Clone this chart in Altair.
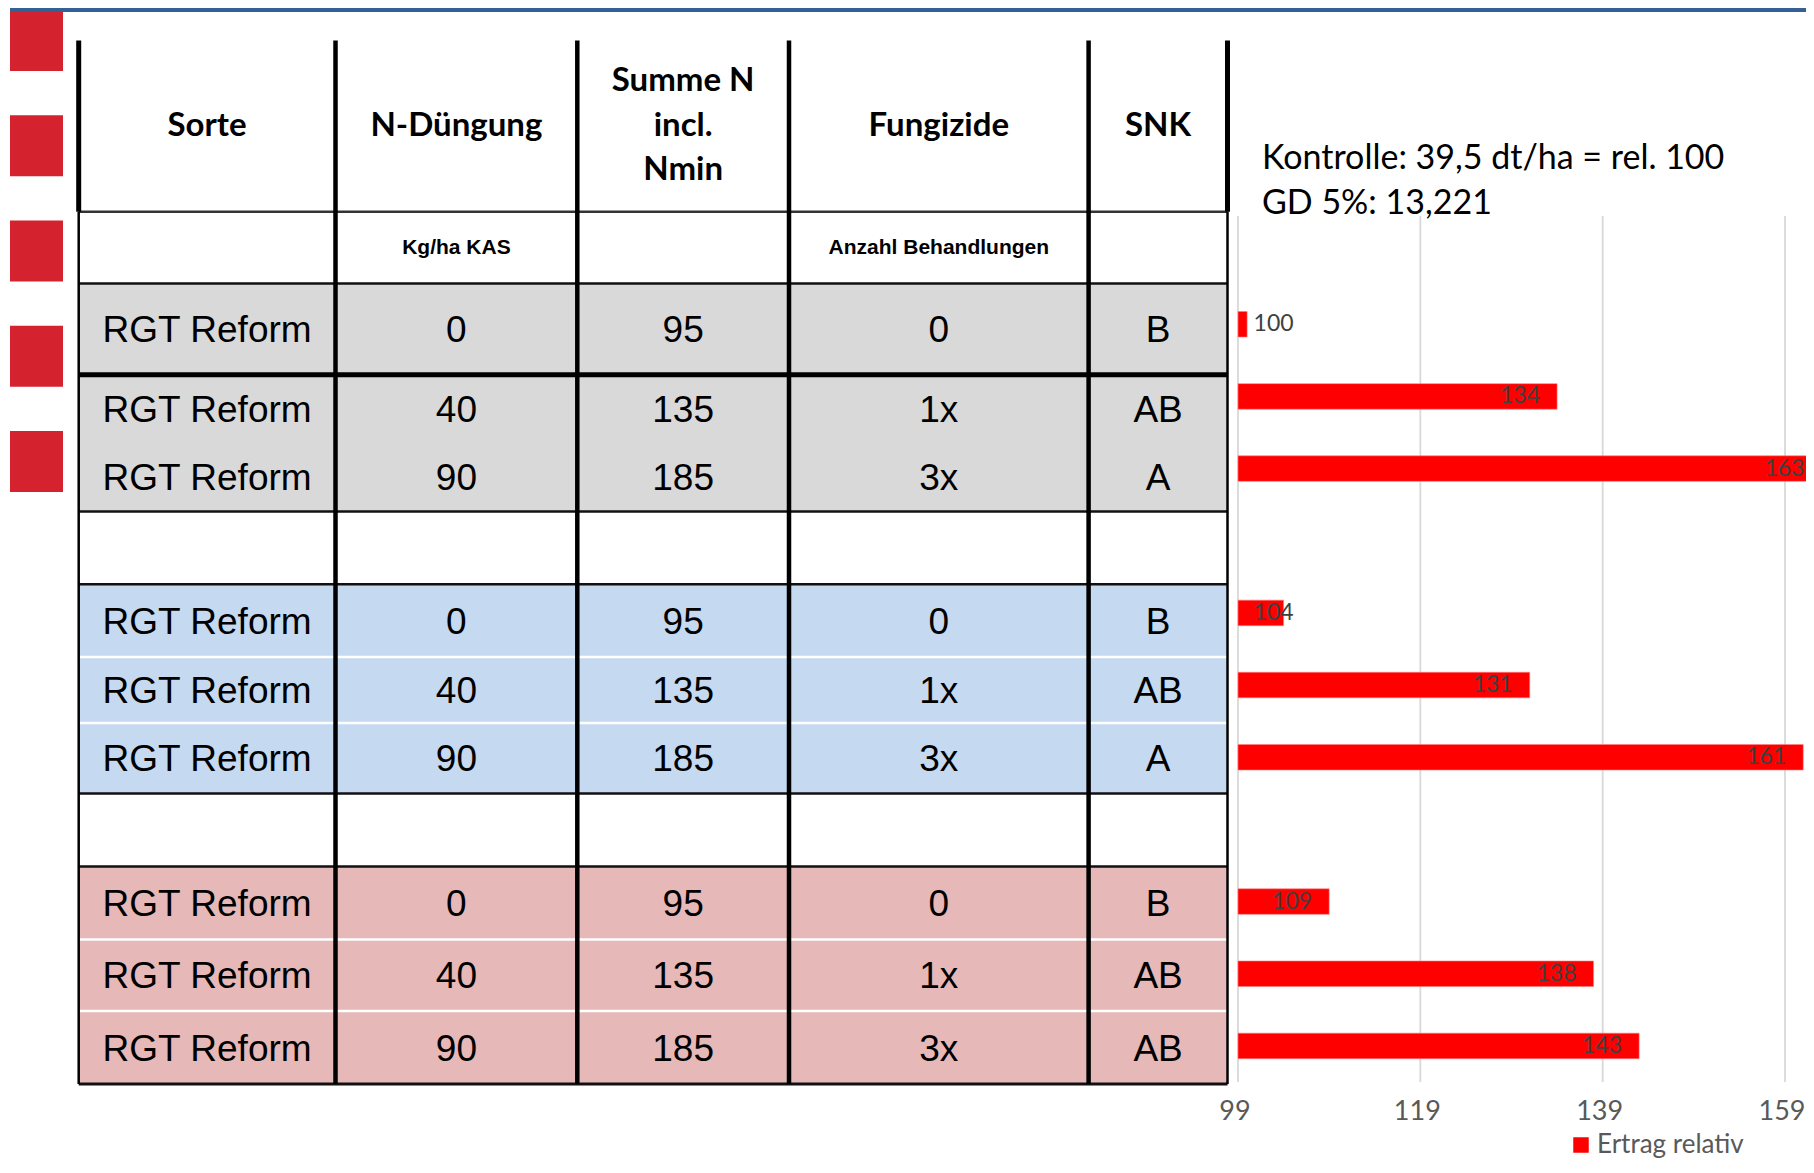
import altair as alt
import numpy as np
import pandas as pd

# ---------------- data ----------------
sorte = ["RGT Reform"] * 9
n_duengung = ["0", "40", "90", "0", "40", "90", "0", "40", "90"]
summe_n = ["95", "135", "185", "95", "135", "185", "95", "135", "185"]
fungizide = ["0", "1x", "3x", "0", "1x", "3x", "0", "1x", "3x"]
snk = ["B", "AB", "A", "B", "AB", "A", "B", "AB", "AB"]
ertrag_rel = [100, 134, 163, 104, 131, 161, 109, 138, 143]
header = ["Sorte", "N-Düngung", "Summe N\nincl.\nNmin", "Fungizide", "SNK"]
subheader = ["", "Kg/ha KAS", "", "Anzahl Behandlungen", ""]
notes = ["Kontrolle: 39,5 dt/ha = rel. 100", "GD 5%: 13,221"]
x_ticks = [99, 119, 139, 159]
series_name = "Ertrag relativ"

# ---------------- layout ----------------
W, H = 1798, 1153
col_widths = [256.8, 241.8, 211.7, 299.6, 138.9]
row_heights = [171.2, 71.7, 91.4, 68.3, 68.3, 72.8, 72.9, 65.9, 70.6, 72.9, 72.9, 71.6, 73.0]
table_left, table_top = 70.7, 32.5
col_edges = np.concatenate([[0.0], np.cumsum(col_widths)])
row_edges = np.concatenate([[0.0], np.cumsum(row_heights)])
body_rows = [2, 3, 4, 6, 7, 8, 10, 11, 12]
TW, TH = float(col_edges[-1]), float(row_edges[-1])

tx = alt.Scale(domain=[0, TW], range=[table_left, table_left + TW], nice=False, zero=False)
ty = alt.Scale(domain=[0, TH], range=[table_top, table_top + TH], nice=False, zero=False)

# fills for the three treatment groups
fill_groups = [(2, 5, "#d9d9d9"), (6, 9, "#c5d9f1"), (10, 13, "#e6b8b7")]
fills = pd.DataFrame([
    {"x0": 0.0, "x1": TW, "y0": row_edges[a], "y1": row_edges[b], "fill": f}
    for a, b, f in fill_groups
])

# horizontal table lines: (row boundary, colour, width)
h_spec = [(1, "#333333", 2.5), (2, "#111111", 2.5), (3, "#000000", 5.0), (5, "#111111", 2.5),
          (6, "#111111", 2.5), (7, "#ffffff", 2.5), (8, "#ffffff", 2.5), (9, "#111111", 2.5),
          (10, "#111111", 2.5), (11, "#ffffff", 2.5), (12, "#ffffff", 2.5), (13, "#111111", 3.0)]
hlines = pd.DataFrame([
    {"y": row_edges[i], "x0": 0.0, "x1": TW, "c": c, "w": w} for i, c, w in h_spec
])
# vertical table lines: (column edge, from row boundary, to row boundary, width)
v_spec = [(0, 0, 1, 5.0), (0, 1, 13, 2.5), (1, 0, 13, 4.5), (2, 0, 13, 4.5), (3, 0, 13, 4.5),
          (4, 0, 13, 4.5), (5, 0, 1, 5.0), (5, 1, 13, 2.5)]
vlines = pd.DataFrame([
    {"x": col_edges[j], "y0": row_edges[a], "y1": row_edges[b], "w": w, "c": "#000000"}
    for j, a, b, w in v_spec
])

def cx(j):
    return (col_edges[j] + col_edges[j + 1]) / 2

def cy(i):
    return (row_edges[i] + row_edges[i + 1]) / 2

head_df = pd.DataFrame([{"x": cx(j), "y": cy(0), "t": t, "n": t.count("\n") + 1}
                        for j, t in enumerate(header)])
sub_df = pd.DataFrame([{"x": cx(j), "y": cy(1), "t": t} for j, t in enumerate(subheader) if t])
body = []
for k, r in enumerate(body_rows):
    for j, col in enumerate([sorte, n_duengung, summe_n, fungizide, snk]):
        body.append({"x": cx(j), "y": cy(r), "t": col[k]})
body_df = pd.DataFrame(body)

fill_layer = alt.Chart(fills).mark_rect().encode(
    x=alt.X("x0:Q", scale=tx, axis=None), x2="x1:Q",
    y=alt.Y("y0:Q", scale=ty, axis=None), y2="y1:Q",
    color=alt.Color("fill:N", scale=None),
)
hline_layer = alt.Chart(hlines).mark_rule().encode(
    x=alt.X("x0:Q", scale=tx, axis=None), x2="x1:Q",
    y=alt.Y("y:Q", scale=ty, axis=None),
    color=alt.Color("c:N", scale=None), size=alt.Size("w:Q", scale=None),
)
vline_layer = alt.Chart(vlines).mark_rule().encode(
    x=alt.X("x:Q", scale=tx, axis=None),
    y=alt.Y("y0:Q", scale=ty, axis=None), y2="y1:Q",
    color=alt.Color("c:N", scale=None), size=alt.Size("w:Q", scale=None),
)
head_single = alt.Chart(head_df).transform_filter("datum.n == 1").mark_text(
    font="Lato", fontWeight="bold", fontSize=33, color="#000000",
    align="center", baseline="middle", dy=0,
).encode(x=alt.X("x:Q", scale=tx, axis=None), y=alt.Y("y:Q", scale=ty, axis=None), text="t:N")
head_multi = alt.Chart(head_df).transform_filter("datum.n == 3").mark_text(
    font="Lato", fontWeight="bold", fontSize=33, color="#000000",
    lineBreak="\n", lineHeight=44.5, align="center", baseline="middle", dy=-45,
).encode(x=alt.X("x:Q", scale=tx, axis=None), y=alt.Y("y:Q", scale=ty, axis=None), text="t:N")
sub_layer = alt.Chart(sub_df).mark_text(
    font="Liberation Sans", fontWeight="bold", fontSize=21, color="#000000",
    align="center", baseline="middle",
).encode(x=alt.X("x:Q", scale=tx, axis=None), y=alt.Y("y:Q", scale=ty, axis=None), text="t:N")
body_layer = alt.Chart(body_df).mark_text(
    font="Liberation Sans", fontSize=37, color="#000000", align="center", baseline="middle", dy=2,
).encode(x=alt.X("x:Q", scale=tx, axis=None), y=alt.Y("y:Q", scale=ty, axis=None), text="t:N")

table = alt.layer(fill_layer, hline_layer, vline_layer, head_single, head_multi, sub_layer, body_layer)

# ---------------- bar chart ----------------
slots = ["leer", "r1", "r2", "r3", "gap1", "r4", "r5", "r6", "gap2", "r7", "r8", "r9"]
bar_slots = ["r1", "r2", "r3", "r4", "r5", "r6", "r7", "r8", "r9"]
bars_df = pd.DataFrame({"slot": bar_slots, "value": ertrag_rel, "series": series_name})
ticks_df = pd.DataFrame({"tick": x_ticks})

bx = alt.Scale(domain=[99, 159], range=[1230, 1777], zero=False, nice=False)
by = alt.Scale(domain=slots, range=[208, 1074], paddingInner=0.646, paddingOuter=0.323)

grid = alt.Chart(ticks_df).mark_rule(color="#d9d9d9", strokeWidth=1.8).encode(
    x=alt.X("tick:Q", scale=bx, axis=None),
    y=alt.value(208), y2=alt.value(1074),
)
bars = alt.Chart(bars_df).mark_bar(stroke="#ff8080", strokeWidth=0.6).encode(
    x=alt.X("value:Q", scale=bx, axis=None), x2=alt.datum(99),
    y=alt.Y("slot:N", scale=by, axis=None),
    color=alt.Color(
        "series:N",
        scale=alt.Scale(domain=[series_name], range=["#ff0000"]),
        legend=alt.Legend(
            orient="none", legendX=1560, legendY=1124, title=None,
            symbolType="square", symbolSize=240, symbolStrokeWidth=0,
            labelFont="Lato", labelFontSize=26, labelColor="#595959",
            labelOffset=3, labelLimit=0, padding=0,
        ),
    ),
)
labels = alt.Chart(bars_df).transform_calculate(
    lab_x="max(datum.value - 1.87, 105.1)"
).mark_text(font="Lato", fontSize=23, color="#404040", align="right", baseline="middle").encode(
    x=alt.X("lab_x:Q", scale=bx, axis=None),
    y=alt.Y("slot:N", scale=by, axis=None),
    text=alt.Text("value:Q"),
)
tick_labels = alt.Chart(ticks_df).mark_text(
    font="Lato", fontSize=27, color="#595959", align="center", baseline="middle", dx=-3
).encode(
    x=alt.X("tick:Q", scale=bx, axis=None),
    y=alt.value(1104),
    text=alt.Text("tick:Q"),
)
barchart = alt.layer(grid, bars, labels, tick_labels)

# ---------------- notes ----------------
note_layer = alt.Chart(pd.DataFrame({"k": [0]})).mark_text(
    font="Lato", fontSize=34, color="#000000", align="left", baseline="alphabetic", lineHeight=45,
).encode(x=alt.value(1254), y=alt.value(161), text=alt.value(notes))

# ---------------- slide decorations ----------------
squares = pd.DataFrame({"i": [0, 1, 2, 3, 4]})
deco_sq = alt.Chart(squares).mark_rect(color="#d4232e").encode(
    x=alt.value(2), x2=alt.value(55),
    y=alt.Y("i:O", scale=alt.Scale(domain=[0, 1, 2, 3, 4], range=[2, 484],
                                   paddingInner=0.42, paddingOuter=0), axis=None),
)
deco_line = alt.Chart(pd.DataFrame({"k": [0]})).mark_rule(color="#336195", strokeWidth=6).encode(
    x=alt.value(2), x2=alt.value(W), y=alt.value(1)
)
deco = alt.layer(deco_sq, deco_line)

chart = alt.layer(deco, table, barchart, note_layer).resolve_scale(
    x="independent", y="independent", color="independent", size="independent"
).properties(
    width=W, height=H, padding=0, autosize=alt.AutoSizeParams(type="none"),
    background="white",
).configure_view(stroke=None)

chart.save("out.html", embed_options={"renderer": "svg", "actions": False})
